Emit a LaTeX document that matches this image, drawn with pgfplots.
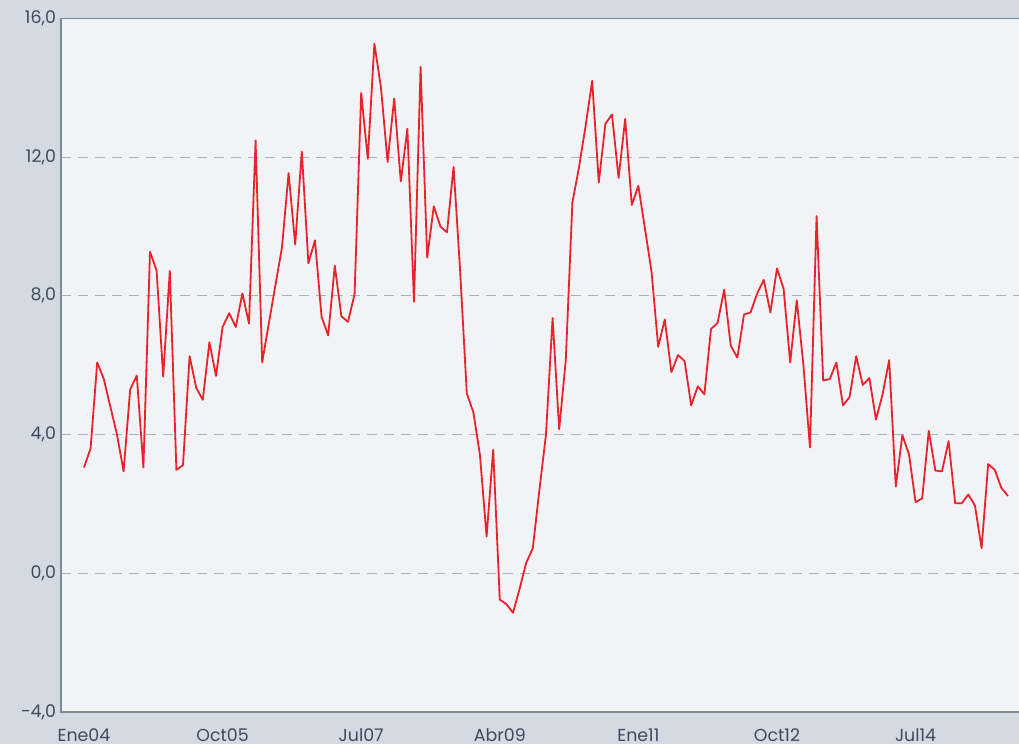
\documentclass[border=0pt]{standalone}
\usepackage{pgfplots}
\pgfplotsset{compat=1.18}
\usepackage{pgfplotstable}
\usepackage{fontspec}
\setmainfont{Poppins}
\definecolor{outerbg}{HTML}{D3DAE1}
\definecolor{innerbg}{HTML}{F1F3F6}
\definecolor{framec}{HTML}{7D8A98}
\definecolor{gridc}{HTML}{A9B1BB}
\definecolor{textc}{HTML}{3E4A5E}
\definecolor{linec}{HTML}{E8232B}
\pgfplotstableread{
i v
0 3.05
1 3.6
2 6.08
3 5.6
4 4.8
5 4.0
6 2.94
7 5.3
8 5.7
9 3.05
10 9.27
11 8.73
12 5.67
13 8.72
14 2.98
15 3.12
16 6.26
17 5.35
18 5.0
19 6.66
20 5.69
21 7.1
22 7.5
23 7.1
24 8.07
25 7.2
26 12.48
27 6.08
28 7.2
29 8.3
30 9.4
31 11.54
32 9.48
33 12.16
34 8.94
35 9.6
36 7.39
37 6.86
38 8.87
39 7.41
40 7.25
41 8.05
42 13.85
43 11.95
44 15.27
45 14.0
46 11.86
47 13.69
48 11.3
49 12.82
50 7.83
51 14.6
52 9.1
53 10.58
54 10.0
55 9.83
56 11.72
57 8.7
58 5.19
59 4.64
60 3.4
61 1.06
62 3.56
63 -0.76
64 -0.89
65 -1.14
66 -0.45
67 0.3
68 0.72
69 2.4
70 4.0
71 7.36
72 4.15
73 6.15
74 10.69
75 11.7
76 12.9
77 14.2
78 11.27
79 12.96
80 13.23
81 11.4
82 13.1
83 10.62
84 11.17
85 9.93
86 8.69
87 6.53
88 7.32
89 5.8
90 6.29
91 6.12
92 4.84
93 5.39
94 5.16
95 7.04
96 7.22
97 8.18
98 6.56
99 6.22
100 7.46
101 7.52
102 8.07
103 8.46
104 7.52
105 8.79
106 8.21
107 6.08
108 7.87
109 6.01
110 3.63
111 10.3
112 5.56
113 5.6
114 6.08
115 4.84
116 5.08
117 6.26
118 5.43
119 5.63
120 4.43
121 5.16
122 6.15
123 2.5
124 3.98
125 3.43
126 2.05
127 2.16
128 4.11
129 2.96
130 2.94
131 3.81
132 2.02
133 2.02
134 2.27
135 1.95
136 0.72
137 3.15
138 2.98
139 2.46
140 2.23
}\datatable
\begin{document}
\begin{tikzpicture}
\useasboundingbox (0,0) rectangle (509.5pt,372pt);
\clip (0,0) rectangle (509.5pt,372pt);
\fill[outerbg] (0,0) rectangle (509.5pt,372pt);
\begin{axis}[
  at={(30.5pt,16pt)}, anchor=south west,
  scale only axis,
  width=482pt, height=346.8pt,
  xmin=-3.485, xmax=142.58,
  ymin=-4, ymax=16,
  axis background/.style={fill=innerbg},
  axis line style={draw=framec, line width=0.8pt},
  xtick={0,21,42,63,84,105,126},
  xticklabels={Ene04,Oct05,Jul07,Abr09,Ene11,Oct12,Jul14},
  ytick={-4,0,4,8,12,16},
  major tick length=0pt,
  ymajorgrids,
  grid style={draw=gridc, line width=0.6pt, dash pattern=on 5pt off 3.5pt},
  tick label style={text=textc, font=\fontsize{8.7}{10}\selectfont},
  yticklabel style={/pgf/number format/use comma, /pgf/number format/fixed, /pgf/number format/fixed zerofill, /pgf/number format/precision=1, /pgf/number format/assume math mode=true},
  xticklabel style={yshift=-5pt},
  yticklabel style={xshift=1pt},
  clip=true,
]
\addplot[linec, line width=0.9pt, mark=none, line join=round] table[x=i, y=v] {\datatable};
\end{axis}
\end{tikzpicture}
\end{document}
